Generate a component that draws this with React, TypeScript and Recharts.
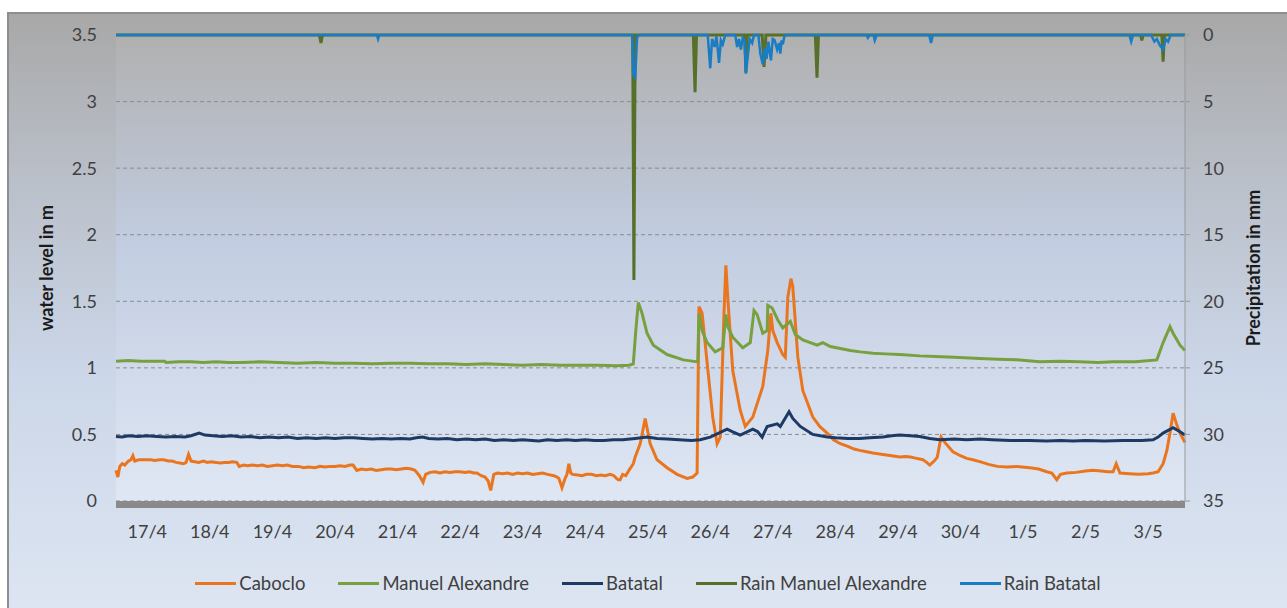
import React from 'react';
import { ComposedChart, Line, XAxis, YAxis, CartesianGrid, Legend } from 'recharts';

const FONT = 'Lato, "Open Sans", "DejaVu Sans", sans-serif';
const TEXT = '#404040';

// x values are days since 17/4 00:00
const dayLabels = ['17/4', '18/4', '19/4', '20/4', '21/4', '22/4', '23/4', '24/4', '25/4', '26/4', '27/4', '28/4', '29/4', '30/4', '1/5', '2/5', '3/5'];
const leftTicks = [0, 0.5, 1, 1.5, 2, 2.5, 3, 3.5];
const rightTicks = [0, 5, 10, 15, 20, 25, 30, 35];
const legendOrder = ['Caboclo', 'Manuel Alexandre', 'Batatal', 'Rain Manuel Alexandre', 'Rain Batatal'];

// Caboclo water level (m): [day, value]
const caboclo: number[][] = [
  [0, 0.23], [0.03, 0.18], [0.06, 0.26], [0.1, 0.28], [0.14, 0.27], [0.2, 0.3], [0.24, 0.31], [0.27, 0.34], [0.3, 0.3], [0.36, 0.31],
  [0.42, 0.31], [0.5, 0.31], [0.56, 0.31], [0.62, 0.305], [0.7, 0.31], [0.76, 0.31], [0.84, 0.3], [0.9, 0.3], [0.96, 0.29], [1.02, 0.285],
  [1.08, 0.28], [1.12, 0.29], [1.16, 0.35], [1.2, 0.3], [1.26, 0.295], [1.32, 0.29], [1.4, 0.3], [1.46, 0.29], [1.52, 0.295], [1.6, 0.29],
  [1.66, 0.285], [1.74, 0.29], [1.8, 0.29], [1.86, 0.295], [1.93, 0.29], [1.97, 0.26], [2.04, 0.27], [2.1, 0.265], [2.18, 0.27], [2.26, 0.265],
  [2.34, 0.27], [2.42, 0.26], [2.5, 0.265], [2.58, 0.27], [2.66, 0.265], [2.74, 0.27], [2.82, 0.26], [2.92, 0.26], [3.0, 0.25], [3.08, 0.255],
  [3.18, 0.25], [3.26, 0.26], [3.34, 0.255], [3.42, 0.26], [3.5, 0.26], [3.58, 0.265], [3.66, 0.26], [3.74, 0.27], [3.79, 0.27], [3.85, 0.23],
  [3.92, 0.24], [4.0, 0.235], [4.08, 0.24], [4.16, 0.23], [4.24, 0.235], [4.32, 0.24], [4.4, 0.24], [4.48, 0.235], [4.56, 0.24], [4.64, 0.245],
  [4.72, 0.24], [4.78, 0.23], [4.85, 0.19], [4.91, 0.14], [4.95, 0.2], [5.02, 0.215], [5.1, 0.22], [5.18, 0.21], [5.26, 0.22], [5.34, 0.215],
  [5.42, 0.22], [5.5, 0.22], [5.58, 0.215], [5.65, 0.22], [5.72, 0.21], [5.77, 0.21], [5.84, 0.19], [5.9, 0.18], [5.95, 0.15], [5.99, 0.08],
  [6.04, 0.2], [6.1, 0.21], [6.18, 0.205], [6.26, 0.21], [6.34, 0.2], [6.42, 0.21], [6.5, 0.205], [6.58, 0.21], [6.66, 0.2], [6.74, 0.205],
  [6.82, 0.21], [6.9, 0.2], [7.0, 0.19], [7.05, 0.18], [7.08, 0.17], [7.13, 0.1], [7.18, 0.17], [7.21, 0.2], [7.24, 0.28], [7.27, 0.21],
  [7.3, 0.2], [7.38, 0.195], [7.45, 0.19], [7.52, 0.2], [7.6, 0.2], [7.68, 0.19], [7.75, 0.195], [7.82, 0.19], [7.9, 0.2], [7.96, 0.19],
  [8.0, 0.17], [8.03, 0.16], [8.06, 0.16], [8.1, 0.2], [8.15, 0.19], [8.2, 0.23], [8.27, 0.28], [8.3, 0.33], [8.38, 0.43], [8.46, 0.62],
  [8.54, 0.43], [8.65, 0.31], [8.81, 0.25], [8.97, 0.2], [9.13, 0.17], [9.22, 0.18], [9.29, 0.21], [9.32, 1.46], [9.37, 1.41], [9.45, 1.04],
  [9.54, 0.63], [9.61, 0.43], [9.66, 0.48], [9.72, 1.41], [9.75, 1.77], [9.78, 1.53], [9.86, 0.98], [9.98, 0.68], [10.06, 0.56], [10.18, 0.63],
  [10.34, 0.86], [10.42, 1.13], [10.47, 1.41], [10.5, 1.28], [10.57, 1.19], [10.66, 1.1], [10.7, 1.08], [10.74, 1.53], [10.79, 1.67], [10.82, 1.61],
  [10.9, 1.08], [10.98, 0.83], [11.14, 0.63], [11.25, 0.56], [11.37, 0.51], [11.47, 0.46], [11.58, 0.43], [11.7, 0.41], [11.8, 0.39], [11.89, 0.38],
  [12.0, 0.37], [12.1, 0.36], [12.26, 0.35], [12.4, 0.34], [12.53, 0.33], [12.62, 0.335], [12.7, 0.33], [12.8, 0.32], [12.9, 0.31], [12.96, 0.29],
  [13.01, 0.27], [13.08, 0.3], [13.13, 0.33], [13.19, 0.48], [13.25, 0.44], [13.38, 0.37], [13.5, 0.34], [13.6, 0.32], [13.7, 0.31], [13.85, 0.29],
  [13.95, 0.275], [14.09, 0.26], [14.25, 0.255], [14.4, 0.26], [14.61, 0.25], [14.75, 0.24], [14.88, 0.22], [14.96, 0.21], [15.04, 0.16], [15.1, 0.2],
  [15.2, 0.21], [15.35, 0.215], [15.5, 0.225], [15.62, 0.23], [15.75, 0.225], [15.85, 0.22], [15.94, 0.22], [15.99, 0.28], [16.05, 0.21], [16.2, 0.205],
  [16.35, 0.2], [16.5, 0.205], [16.58, 0.21], [16.66, 0.22], [16.74, 0.28], [16.8, 0.38], [16.85, 0.51], [16.9, 0.66], [16.96, 0.57], [17.01, 0.51],
  [17.09, 0.44],
];

// Manuel Alexandre water level (m)
const manuelAlexandre: number[][] = [
  [0, 1.05], [0.2, 1.055], [0.4, 1.05], [0.6, 1.05], [0.78, 1.05], [0.8, 1.04], [1.0, 1.045], [1.2, 1.045], [1.4, 1.04], [1.6, 1.045],
  [1.8, 1.04], [2.0, 1.04], [2.3, 1.045], [2.6, 1.04], [2.9, 1.035], [3.2, 1.04], [3.5, 1.035], [3.8, 1.035], [4.1, 1.03], [4.4, 1.035],
  [4.7, 1.035], [5.0, 1.03], [5.3, 1.03], [5.6, 1.025], [5.9, 1.03], [6.2, 1.025], [6.5, 1.02], [6.8, 1.025], [7.1, 1.02], [7.4, 1.02],
  [7.7, 1.02], [8.01, 1.015], [8.2, 1.02], [8.27, 1.03], [8.31, 1.28], [8.35, 1.49], [8.41, 1.41], [8.49, 1.26], [8.59, 1.17], [8.81, 1.1],
  [9.07, 1.06], [9.3, 1.045], [9.32, 1.41], [9.37, 1.28], [9.45, 1.19], [9.58, 1.12], [9.7, 1.15], [9.75, 1.4], [9.78, 1.31], [9.86, 1.23],
  [10.02, 1.15], [10.14, 1.19], [10.2, 1.43], [10.25, 1.4], [10.34, 1.26], [10.41, 1.28], [10.42, 1.47], [10.49, 1.45], [10.58, 1.36], [10.66, 1.3],
  [10.78, 1.35], [10.86, 1.25], [10.98, 1.21], [11.21, 1.17], [11.3, 1.19], [11.42, 1.16], [11.74, 1.13], [11.9, 1.12], [12.1, 1.11], [12.3, 1.105],
  [12.53, 1.1], [12.85, 1.09], [13.1, 1.085], [13.4, 1.08], [13.81, 1.07], [14.1, 1.065], [14.4, 1.06], [14.77, 1.045], [15.1, 1.05], [15.4, 1.045],
  [15.7, 1.04], [15.94, 1.045], [16.3, 1.045], [16.64, 1.06], [16.74, 1.19], [16.85, 1.31], [16.9, 1.26], [17.01, 1.17], [17.09, 1.13],
];

// Batatal water level (m)
const batatal: number[][] = [
  [0, 0.485], [0.1, 0.48], [0.2, 0.49], [0.35, 0.485], [0.5, 0.49], [0.65, 0.485], [0.8, 0.48], [0.95, 0.485], [1.1, 0.48], [1.2, 0.49],
  [1.33, 0.51], [1.42, 0.495], [1.55, 0.49], [1.7, 0.485], [1.85, 0.49], [2.0, 0.48], [2.15, 0.485], [2.3, 0.475], [2.45, 0.48], [2.6, 0.475],
  [2.75, 0.48], [2.9, 0.47], [3.05, 0.475], [3.2, 0.47], [3.35, 0.475], [3.5, 0.47], [3.65, 0.475], [3.8, 0.475], [3.95, 0.47], [4.1, 0.465],
  [4.25, 0.47], [4.4, 0.465], [4.55, 0.47], [4.7, 0.465], [4.8, 0.475], [4.9, 0.48], [5.0, 0.47], [5.15, 0.465], [5.3, 0.47], [5.45, 0.46],
  [5.6, 0.465], [5.75, 0.46], [5.9, 0.465], [6.05, 0.455], [6.2, 0.46], [6.35, 0.455], [6.5, 0.46], [6.65, 0.455], [6.76, 0.45], [6.9, 0.46],
  [7.05, 0.455], [7.2, 0.46], [7.35, 0.455], [7.5, 0.46], [7.65, 0.455], [7.8, 0.455], [7.95, 0.46], [8.1, 0.46], [8.3, 0.47], [8.49, 0.48],
  [8.65, 0.47], [8.81, 0.465], [9.0, 0.46], [9.2, 0.455], [9.34, 0.46], [9.5, 0.48], [9.77, 0.54], [9.86, 0.52], [9.98, 0.495], [10.18, 0.54],
  [10.26, 0.52], [10.33, 0.48], [10.41, 0.56], [10.57, 0.58], [10.62, 0.56], [10.76, 0.67], [10.82, 0.62], [10.94, 0.56], [11.14, 0.5], [11.37, 0.48],
  [11.5, 0.475], [11.7, 0.47], [11.89, 0.47], [12.05, 0.475], [12.26, 0.48], [12.4, 0.49], [12.53, 0.495], [12.7, 0.49], [12.85, 0.485], [13.01, 0.47],
  [13.17, 0.46], [13.4, 0.465], [13.6, 0.46], [13.81, 0.465], [14.0, 0.46], [14.3, 0.455], [14.6, 0.455], [14.88, 0.45], [15.1, 0.455], [15.3, 0.45],
  [15.5, 0.455], [15.8, 0.45], [16.1, 0.455], [16.4, 0.455], [16.58, 0.46], [16.66, 0.48], [16.74, 0.51], [16.9, 0.55], [17.01, 0.52], [17.09, 0.495],
];

// Rain Manuel Alexandre (mm)
const rainManuel: number[][] = [
  [0, 0], [3.25, 0], [3.277, 0.6], [3.3, 0], [8.26, 0], [8.28, 18.4], [8.3, 0], [9.23, 0], [9.257, 4.3], [9.28, 0],
  [10.05, 0], [10.07, 2.8], [10.09, 0], [10.33, 0], [10.36, 2.4], [10.39, 0], [11.18, 0], [11.207, 3.2], [11.23, 0], [16.38, 0],
  [16.4, 0.4], [16.42, 0], [16.72, 0], [16.74, 2.0], [16.76, 0], [17.09, 0],
];

// Rain Batatal (mm)
const rainBatatal: number[][] = [
  [0, 0], [4.17, 0], [4.19, 0.3], [4.21, 0], [8.25, 0], [8.27, 3.0], [8.3, 3.2], [8.33, 0.2], [8.36, 0], [9.46, 0],
  [9.5, 2.5], [9.53, 0.3], [9.57, 0.9], [9.6, 0.1], [9.64, 2.1], [9.67, 0.4], [9.7, 0.7], [9.74, 0], [9.9, 0], [9.93, 0.9],
  [9.96, 0.3], [9.99, 1.1], [10.02, 0.2], [10.05, 0.5], [10.07, 2.9], [10.1, 1.6], [10.13, 0.3], [10.17, 0.6], [10.2, 0], [10.27, 0],
  [10.3, 1.4], [10.34, 2.2], [10.37, 1.0], [10.4, 1.8], [10.43, 0.5], [10.45, 1.2], [10.47, 1.9], [10.5, 0.3], [10.53, 0.4], [10.57, 1.1],
  [10.6, 0.6], [10.62, 1.4], [10.64, 0.4], [10.66, 0.7], [10.69, 0], [12.0, 0], [12.02, 0.2], [12.05, 0], [12.11, 0], [12.13, 0.4],
  [12.16, 0], [13.0, 0], [13.03, 0.6], [13.06, 0], [16.2, 0], [16.23, 0.5], [16.26, 0], [16.55, 0], [16.6, 0.5], [16.64, 0.3],
  [16.69, 0.8], [16.74, 1.1], [16.78, 0.3], [16.82, 0.5], [16.86, 0], [17.09, 0],
];

const toData = (pairs: number[][]) => pairs.map(([t, v]) => ({ t, v }));
const cabData = toData(caboclo);
const maData = toData(manuelAlexandre);
const btData = toData(batatal);
const rmData = toData(rainManuel);
const rbData = toData(rainBatatal);

const dayTicks = dayLabels.map((_, i) => i + 0.5);

const renderTitle = (props: any, value: string, dx: number) => {
  const vb = props.viewBox || { x: 0, y: 21, width: 0, height: 466 };
  const cx = vb.x + dx;
  const cy = vb.y + vb.height / 2;
  return (
    <text
      x={cx}
      y={cy}
      transform={`rotate(-90 ${cx} ${cy})`}
      textAnchor="middle"
      dominantBaseline="central"
      fill="#1a1a1a"
      fontFamily={FONT}
      fontWeight="bold"
      fontSize={18}
    >
      {value}
    </text>
  );
};

const renderLegend = (props: any) => {
  const payload = [...(props.payload || [])].sort(
    (a: any, b: any) => legendOrder.indexOf(a.value) - legendOrder.indexOf(b.value)
  );
  return (
    <div style={{ display: 'flex', justifyContent: 'center', alignItems: 'center', height: 30, fontFamily: FONT, fontSize: 18.5, color: TEXT }}>
      {payload.map((e: any, i: number) => (
        <div key={i} style={{ display: 'flex', alignItems: 'center', marginRight: i < payload.length - 1 ? 33 : 0 }}>
          <span style={{ display: 'inline-block', width: 41, height: 3, background: e.color, marginRight: 3 }} />
          <span>{e.value}</span>
        </div>
      ))}
    </div>
  );
};

export default function App() {
  return (
    <div
      style={{
        position: 'absolute',
        left: 7,
        top: 12,
        width: 1280,
        height: 596,
        boxSizing: 'border-box',
        borderTop: '2px solid #8e8e8e',
        borderLeft: '2px solid #8e8e8e',
        background: 'linear-gradient(to bottom, #a8a8a8 0%, #bbc1cb 30%, #cbd6e8 60%, #dde5f2 100%)',
        fontFamily: FONT,
        overflow: 'hidden',
      }}
    >
      <ComposedChart width={1278} height={594} margin={{ top: 21, right: 0, bottom: 37, left: 0 }}>
        <defs>
          <linearGradient id="plotBg" x1="0" y1="0" x2="0" y2="1">
            <stop offset="0%" stopColor="#b0b0b0" />
            <stop offset="45%" stopColor="#c2cde1" />
            <stop offset="100%" stopColor="#dfe7f4" />
          </linearGradient>
        </defs>
        <CartesianGrid
          xAxisId="x"
          yAxisId="left"
          vertical={false}
          stroke="#8c8c8c"
          strokeDasharray="4 3"
          fill="url(#plotBg)"
          fillOpacity={1}
        />
        <XAxis
          xAxisId="x"
          type="number"
          dataKey="t"
          domain={[0, 17.09]}
          ticks={dayTicks}
          interval={0}
          tickFormatter={(v: number) => dayLabels[Math.floor(v)]}
          tickLine={false}
          tickSize={6}
          tickMargin={18}
          height={40}
          axisLine={{ stroke: '#8a8a8a', strokeWidth: 7, transform: 'translate(0,3.5)' }}
          tick={{ fill: TEXT, fontSize: 18, fontFamily: FONT }}
        />
        <YAxis
          yAxisId="left"
          orientation="left"
          width={107}
          domain={[0, 3.5]}
          ticks={leftTicks}
          interval={0}
          axisLine={false}
          tickLine={false}
          tickMargin={13}
          tick={{ fill: TEXT, fontSize: 18, fontFamily: FONT }}
          label={(p: any) => renderTitle(p, 'water level in m', 37)}
        />
        <YAxis
          yAxisId="right"
          orientation="right"
          width={102}
          domain={[0, 35]}
          reversed
          ticks={rightTicks}
          interval={0}
          axisLine={{ stroke: '#999999' }}
          tickLine={{ stroke: '#999999' }}
          tickSize={5}
          tickMargin={13}
          tick={{ fill: TEXT, fontSize: 18, fontFamily: FONT, textAnchor: 'start' }}
          label={(p: any) => renderTitle(p, 'Precipitation in mm', 68)}
        />
        <Line xAxisId="x" yAxisId="left" data={cabData} dataKey="v" name="Caboclo" type="linear" stroke="#e9761f" strokeWidth={3} dot={false} activeDot={false} isAnimationActive={false} />
        <Line xAxisId="x" yAxisId="left" data={maData} dataKey="v" name="Manuel Alexandre" type="linear" stroke="#78a03e" strokeWidth={3} dot={false} activeDot={false} isAnimationActive={false} />
        <Line xAxisId="x" yAxisId="left" data={btData} dataKey="v" name="Batatal" type="linear" stroke="#1c3a63" strokeWidth={3} dot={false} activeDot={false} isAnimationActive={false} />
        <Line xAxisId="x" yAxisId="right" data={rmData} dataKey="v" name="Rain Manuel Alexandre" type="linear" stroke="#56702a" strokeWidth={3} dot={false} activeDot={false} isAnimationActive={false} />
        <Line xAxisId="x" yAxisId="right" data={rbData} dataKey="v" name="Rain Batatal" type="linear" stroke="#1a7dc4" strokeWidth={2.5} dot={false} activeDot={false} isAnimationActive={false} />
        <Legend
          verticalAlign="bottom"
          height={30}
          content={renderLegend}
          wrapperStyle={{ top: 554, bottom: 'auto', left: 0, width: 1278 }}
        />
      </ComposedChart>
    </div>
  );
}
